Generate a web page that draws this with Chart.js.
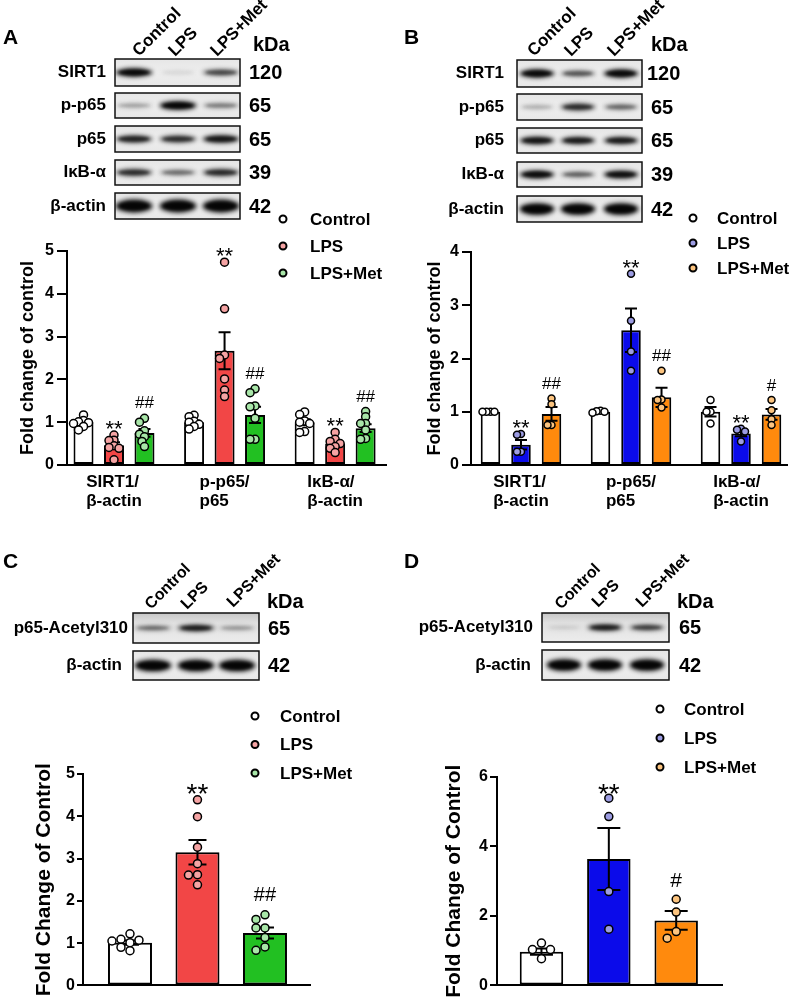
<!DOCTYPE html>
<html>
<head>
<meta charset="utf-8">
<script src="https://cdn.jsdelivr.net/npm/chart.js@4.4.1/dist/chart.umd.min.js"></script>
<style>
  html, body { margin: 0; padding: 0; background: #fff; }
  body { width: 796px; height: 997px; overflow: hidden; position: relative; }
  canvas { position: absolute; }
</style>
</head>
<body>
<canvas id="bg" width="796" height="997" style="left:0;top:0"></canvas>
<canvas id="chartA" width="400" height="320" style="left:0;top:200px"></canvas>
<canvas id="chartB" width="396" height="320" style="left:400px;top:200px"></canvas>
<canvas id="chartC" width="400" height="437" style="left:0;top:560px"></canvas>
<canvas id="chartD" width="396" height="437" style="left:400px;top:560px"></canvas>
<script>
// ---------------- DATA ----------------
const groups = ['Control', 'LPS', 'LPS+Met'];

// Panel A (fold change of control, n = 7)
const catsA = [['SIRT1/', 'β-actin'], ['p-p65/', 'p65'], ['IκB-α/', 'β-actin']];
const ticksA = [0, 1, 2, 3, 4, 5];
const meanA_Control = [1.00, 1.00, 1.00];
const meanA_LPS = [0.46, 2.67, 0.50];
const meanA_Met = [0.75, 1.17, 0.86];
const semA_Control = [0.04, 0.04, 0.07];
const semA_LPS = [0.07, 0.43, 0.06];
const semA_Met = [0.09, 0.19, 0.09];
const ptsA_Control = [[1.17, 1.04, 1.01, 0.99, 0.97, 0.90, 0.82], [1.16, 1.13, 1.02, 1.00, 0.95, 0.90, 0.84], [1.24, 1.18, 1.03, 1.00, 0.97, 0.78, 0.76]];
const ptsA_LPS = [[0.70, 0.58, 0.57, 0.45, 0.41, 0.39, 0.12], [4.74, 3.65, 2.57, 2.49, 2.01, 1.75, 1.60], [0.76, 0.60, 0.55, 0.50, 0.43, 0.39, 0.29]];
const ptsA_Met = [[1.09, 1.00, 0.80, 0.72, 0.66, 0.55, 0.43], [1.78, 1.69, 1.38, 1.36, 1.09, 0.60, 0.60], [1.25, 1.13, 0.97, 0.97, 0.82, 0.62, 0.60]];
const sigA_LPS = ['**', '**', '**'];
const sigA_Met = ['##', '##', '##'];

// Panel B (n = 4)
const catsB = [['SIRT1/', 'β-actin'], ['p-p65/', 'p65'], ['IκB-α/', 'β-actin']];
const ticksB = [0, 1, 2, 3, 4];
const meanB_Control = [1.00, 1.00, 1.00];
const meanB_LPS = [0.38, 2.53, 0.59];
const meanB_Met = [0.96, 1.27, 0.95];
const semB_Control = [0.00, 0.01, 0.09];
const semB_LPS = [0.09, 0.41, 0.05];
const semB_Met = [0.13, 0.18, 0.10];
const ptsB_Control = [[1.00, 1.00, 1.00, 1.00], [1.02, 1.01, 1.00, 0.98], [1.22, 1.00, 1.00, 0.78]];
const ptsB_LPS = [[0.58, 0.57, 0.25, 0.25], [3.59, 2.71, 2.13, 1.77], [0.68, 0.66, 0.63, 0.44]];
const ptsB_Met = [[1.25, 1.14, 0.75, 0.75], [1.77, 1.23, 1.22, 1.08], [1.22, 1.03, 0.86, 0.75]];
const sigB_LPS = ['**', '**', '**'];
const sigB_Met = ['##', '##', '#'];

// Panel C (p65-Acetyl310, n = 7)
const ticksC = [0, 1, 2, 3, 4, 5];
const meanC = [1.01, 3.15, 1.24];
const semC = [0.05, 0.29, 0.13];
const ptsC = [[1.22, 1.09, 1.07, 1.05, 1.01, 0.90, 0.82], [4.39, 3.99, 3.27, 2.88, 2.62, 2.61, 2.38], [1.67, 1.56, 1.36, 1.36, 1.13, 0.91, 0.83]];
const sigC = ['', '**', '##'];

// Panel D (p65-Acetyl310, n = 4)
const ticksD = [0, 2, 4, 6];
const meanD = [0.97, 3.64, 1.87];
const semD = [0.09, 0.89, 0.27];
const ptsD = [[1.22, 1.03, 1.03, 0.77], [5.39, 4.86, 2.70, 1.62], [2.48, 2.11, 1.55, 1.36]];
const sigD = ['', '**', '#'];

// Blot band intensities (relative darkness per lane: Control, LPS, LPS+Met)
const blotRowsAB = ['SIRT1', 'p-p65', 'p65', 'IκB-α', 'β-actin'];
const kdaAB = ['120', '65', '65', '39', '42'];
const bandsA = [[0.95, 0.06, 0.55], [0.22, 1.00, 0.35], [0.75, 0.70, 0.85], [0.70, 0.40, 0.72], [1.00, 1.00, 1.00]];
const bandsB = [[0.95, 0.50, 0.95], [0.18, 0.70, 0.42], [0.85, 0.80, 0.80], [0.92, 0.45, 0.90], [1.00, 1.00, 1.00]];
const blotRowsCD = ['p65-Acetyl310', 'β-actin'];
const kdaCD = ['65', '42'];
const bandsC = [[0.40, 0.80, 0.25], [1.00, 1.00, 1.00]];
const bandsD = [[0.08, 0.80, 0.60], [1.00, 1.00, 1.00]];

// ---------------- STYLE ----------------
const FONT = '"Liberation Sans", Arial, Helvetica, sans-serif';
Chart.defaults.font.family = FONT;
Chart.defaults.color = '#000';

const colA = { bar: ['#ffffff', '#f24646', '#22c022'], pt: ['#ffffff', '#f5a3a3', '#a8e6a8'] };
const colB = { bar: ['#ffffff', '#0b0bea', '#ff8a0d'], pt: ['#ffffff', '#9c9ce2', '#fcc47f'] };

// ---------------- BLOTS (background canvas) ----------------
const bg = document.getElementById('bg').getContext('2d');

function txt(s, x, y, size, align, base) {
  bg.font = 'bold ' + size + 'px ' + FONT;
  bg.textAlign = align || 'left';
  bg.textBaseline = base || 'alphabetic';
  bg.fillStyle = '#000';
  bg.fillText(s, x, y);
}
function rotTxt(s, x, y, size) {
  bg.save();
  bg.translate(x, y);
  bg.rotate(-Math.PI / 4);
  txt(s, 0, 0, size, 'left', 'alphabetic');
  bg.restore();
}
function blotRow(x0, y0, x1, y1, lanes, bands, w, h, topShade) {
  bg.save();
  bg.beginPath(); bg.rect(x0, y0, x1 - x0, y1 - y0); bg.clip();
  const g = bg.createLinearGradient(0, y0, 0, y1);
  if (topShade) { g.addColorStop(0, '#c6c6c6'); g.addColorStop(0.35, '#e2e2e2'); g.addColorStop(1, '#ececec'); }
  else { g.addColorStop(0, '#e6e6e6'); g.addColorStop(0.5, '#eeeeee'); g.addColorStop(1, '#e8e8e8'); }
  bg.fillStyle = g; bg.fillRect(x0, y0, x1 - x0, y1 - y0);
  const cy = (y0 + y1) / 2;
  bands.forEach((a, i) => {
    const hh = h * (0.65 + 0.55 * a);
    bg.filter = 'blur(2.2px)';
    bg.fillStyle = 'rgba(25,25,25,' + Math.min(1, a * 0.85) + ')';
    bg.beginPath(); bg.ellipse(lanes[i], cy, w / 2, hh / 2, 0, 0, Math.PI * 2); bg.fill();
    bg.filter = 'blur(1.4px)';
    bg.fillStyle = 'rgba(0,0,0,' + Math.min(1, a * 0.9) + ')';
    bg.beginPath(); bg.ellipse(lanes[i], cy, w / 2.5, hh / 3.2, 0, 0, Math.PI * 2); bg.fill();
  });
  bg.restore();
  bg.save(); bg.lineWidth = 1.5; bg.strokeStyle = '#111'; bg.strokeRect(x0, y0, x1 - x0, y1 - y0); bg.restore();
}

// panel letters
txt('A', 3, 44, 21); txt('B', 404, 44, 21); txt('C', 3, 568, 21); txt('D', 404, 568, 21);

// Blot A
[[139, 57], [175, 57], [217, 57]].forEach((p, i) => rotTxt(groups[i], p[0], p[1], 17));
txt('kDa', 253, 51, 20);
const rowsA = [[59, 86], [93, 118], [126, 152], [160, 185], [193, 219]];
rowsA.forEach((r, i) => {
  blotRow(115, r[0], 240, r[1], [134, 178, 221], bandsA[i], 38, i === 4 ? 12 : 8);
  txt(blotRowsAB[i], 106, (r[0] + r[1]) / 2, 17, 'right', 'middle');
  txt(kdaAB[i], 249, (r[0] + r[1]) / 2 + 1, 20, 'left', 'middle');
});

// Blot B
[[534, 57], [571, 57], [614, 57]].forEach((p, i) => rotTxt(groups[i], p[0], p[1], 17));
txt('kDa', 651, 51, 20);
const rowsB = [[60, 87], [94, 120], [128, 153], [162, 187], [196, 222]];
rowsB.forEach((r, i) => {
  blotRow(517, r[0], 642, r[1], [537, 578, 621], bandsB[i], 36, i === 4 ? 11 : 8);
  txt(blotRowsAB[i], 504, (r[0] + r[1]) / 2, 17, 'right', 'middle');
  txt(kdaAB[i], i === 0 ? 647 : 651, (r[0] + r[1]) / 2 + 1, 20, 'left', 'middle');
});

// Blot C
[[151, 610], [187, 610], [233, 608]].forEach((p, i) => rotTxt(groups[i], p[0], p[1], 16));
txt('kDa', 267, 608, 20);
const rowsC = [[613, 643], [651, 680]];
rowsC.forEach((r, i) => {
  blotRow(133, r[0], 259, r[1], [153, 196, 237], bandsC[i], 38, i === 1 ? 11 : 7, i === 0);
  txt(blotRowsCD[i], i === 0 ? 128 : 122, (r[0] + r[1]) / 2, 17, 'right', 'middle');
  txt(kdaCD[i], 268, (r[0] + r[1]) / 2 + 1, 20, 'left', 'middle');
});

// Blot D
[[561, 610], [598, 608], [642, 608]].forEach((p, i) => rotTxt(groups[i], p[0], p[1], 16));
txt('kDa', 677, 608, 20);
const rowsD = [[613, 642], [650, 680]];
rowsD.forEach((r, i) => {
  blotRow(542, r[0], 669, r[1], [564, 605, 647], bandsD[i], 36, i === 1 ? 11 : 7, i === 0);
  txt(blotRowsCD[i], i === 0 ? 533 : 531, (r[0] + r[1]) / 2, 17, 'right', 'middle');
  txt(kdaCD[i], 679, (r[0] + r[1]) / 2 + 1, 20, 'left', 'middle');
});

// ---------------- CHART PLUGINS ----------------
function swarmOffsets(pix, minDist, step) {
  const order = pix.map((y, i) => i).sort((a, b) => pix[a] - pix[b]);
  const placed = [];
  const out = new Array(pix.length).fill(0);
  for (const i of order) {
    const y = pix[i];
    for (let k = 0; k < 80; k++) {
      const off = k === 0 ? 0 : (k % 2 ? -1 : 1) * Math.ceil(k / 2) * step;
      if (placed.every(p => Math.hypot(p.x - off, p.y - y) >= minDist - 1e-6)) {
        placed.push({ x: off, y: y }); out[i] = off; break;
      }
    }
  }
  return out;
}

const decorPlugin = {
  id: 'decor',
  afterDatasetsDraw(chart, args, o) {
    const ctx = chart.ctx, ys = chart.scales.y;
    chart.data.datasets.forEach((ds, di) => {
      const meta = chart.getDatasetMeta(di);
      meta.data.forEach((bar, j) => {
        const mean = ds.data[j], sem = ds.sem[j], x = bar.x;
        let topPix = ys.getPixelForValue(mean);
        if (sem > 0) {
          const y1 = ys.getPixelForValue(mean + sem), y2 = ys.getPixelForValue(mean - sem);
          ctx.save();
          ctx.strokeStyle = '#000'; ctx.lineWidth = o.errWidth; ctx.lineCap = 'butt';
          ctx.beginPath();
          ctx.moveTo(x, y1); ctx.lineTo(x, y2);
          ctx.moveTo(x - o.cap / 2, y1); ctx.lineTo(x + o.cap / 2, y1);
          ctx.moveTo(x - o.cap / 2, y2); ctx.lineTo(x + o.cap / 2, y2);
          ctx.stroke();
          ctx.restore();
          topPix = Math.min(topPix, y1);
        }
        const vals = ds.pts[j];
        const pix = vals.map(v => ys.getPixelForValue(v));
        const offs = swarmOffsets(pix, o.minDist, o.step);
        const pc = Array.isArray(ds.ptColor) ? ds.ptColor[j] : ds.ptColor;
        pix.forEach((py, k) => {
          ctx.beginPath();
          ctx.arc(x + offs[k], py, o.r, 0, Math.PI * 2);
          ctx.fillStyle = pc; ctx.fill();
          ctx.lineWidth = o.ptBorder; ctx.strokeStyle = '#000'; ctx.stroke();
          topPix = Math.min(topPix, py - o.r);
        });
        const s = ds.sig ? ds.sig[j] : '';
        if (s) {
          const star = s[0] === '*';
          const fs = star ? o.starSize : o.hashSize;
          ctx.font = fs + 'px ' + FONT;
          ctx.textAlign = 'center'; ctx.textBaseline = 'alphabetic'; ctx.fillStyle = '#000';
          const bottom = topPix - (star ? o.sigGap : o.hashGap);
          ctx.fillText(s, x, star ? bottom + 0.4 * fs : bottom);
        }
      });
    });
  }
};

const legendPlugin = {
  id: 'dotLegend',
  afterDraw(chart, args, o) {
    const ctx = chart.ctx;
    o.items.forEach((it, i) => {
      const y = o.y + i * o.gap;
      ctx.beginPath(); ctx.arc(o.x, y, o.r, 0, Math.PI * 2);
      ctx.fillStyle = it.color; ctx.fill();
      ctx.lineWidth = o.lw; ctx.strokeStyle = '#000'; ctx.stroke();
      ctx.font = 'bold ' + o.size + 'px ' + FONT;
      ctx.textAlign = 'left'; ctx.textBaseline = 'middle'; ctx.fillStyle = '#000';
      ctx.fillText(it.text, o.tx, y + 1);
    });
  }
};

const catLabelPlugin = {
  id: 'catLabels',
  afterDraw(chart, args, o) {
    if (!o || !o.show) return;
    const ctx = chart.ctx, xs = chart.scales.x;
    ctx.font = 'bold ' + o.size + 'px ' + FONT;
    ctx.textAlign = 'left'; ctx.textBaseline = 'middle'; ctx.fillStyle = '#000';
    chart.data.labels.forEach((lab, i) => {
      const lines = Array.isArray(lab) ? lab : [lab];
      const w = Math.max.apply(null, lines.map(l => ctx.measureText(l).width));
      const x0 = xs.getPixelForTick(i) - w / 2;
      lines.forEach((l, k) => ctx.fillText(l, x0, o.y + k * o.lh));
    });
  }
};

function makeChart(id, labels, ticks, datasets, L) {
  const n = labels.length;
  return new Chart(document.getElementById(id), {
    type: 'bar',
    data: { labels: labels, datasets: datasets },
    options: {
      responsive: false,
      animation: false,
      events: [],
      layout: { padding: { left: 0, right: L.padR, top: L.padT, bottom: 0 } },
      datasets: { bar: { categoryPercentage: L.cat, barPercentage: L.bar } },
      plugins: {
        legend: { display: false },
        tooltip: { enabled: false },
        decor: L.decor,
        dotLegend: L.legend,
        catLabels: L.catLabels || { show: false }
      },
      scales: {
        x: {
          type: 'category',
          offset: true,
          grid: { display: false },
          border: { display: true, color: '#000', width: 2 },
          ticks: { display: false },
          afterFit: s => { s.height = L.xH; },
          afterBuildTicks: s => { s._startValue = -L.padLc; s._valueRange = (n - 1) + L.padLc + L.padRc; }
        },
        y: {
          min: ticks[0],
          max: ticks[ticks.length - 1],
          afterBuildTicks: s => { s.ticks = ticks.map(v => ({ value: v })); },
          ticks: { font: { size: L.tickSize, weight: 'bold' }, color: '#000', padding: L.tickPad },
          grid: { display: true, drawOnChartArea: false, drawTicks: true, tickLength: L.tickLen, color: '#000', lineWidth: 2 },
          border: { display: true, color: '#000', width: 2 },
          title: { display: true, text: L.title, color: '#000', font: { size: L.titleSize, weight: 'bold' }, padding: { top: L.titlePad, bottom: 0 } },
          afterFit: s => { s.width = L.yW; }
        }
      }
    },
    plugins: [decorPlugin, legendPlugin, catLabelPlugin]
  });
}

function groupedSets(means, sems, pts, sigs, col) {
  return groups.map((g, i) => ({
    label: g,
    data: means[i], sem: sems[i], pts: pts[i], sig: sigs[i],
    backgroundColor: col.bar[i], borderColor: '#000', borderWidth: 2, borderSkipped: false,
    ptColor: col.pt[i]
  }));
}
function singleSet(means, sems, pts, sigs, col) {
  return [{
    label: 'p65-Acetyl310',
    data: means, sem: sems, pts: pts, sig: sigs,
    backgroundColor: col.bar, borderColor: '#000', borderWidth: 2, borderSkipped: false,
    ptColor: col.pt
  }];
}
function legendItems(col) { return groups.map((g, i) => ({ text: g, color: col.pt[i] })); }

// ---------------- CHARTS ----------------
makeChart('chartA', catsA, ticksA,
  groupedSets([meanA_Control, meanA_LPS, meanA_Met], [semA_Control, semA_LPS, semA_Met],
              [ptsA_Control, ptsA_LPS, ptsA_Met], [null, sigA_LPS, sigA_Met], colA),
  { padR: 14, padT: 51, xH: 55, yW: 67, padLc: 0.425, padRc: 0.46, cat: 0.827, bar: 0.656,
    tickSize: 16, tickPad: 3, tickLen: 10, title: 'Fold change of control', titleSize: 18, titlePad: 17,
    decor: { r: 4, ptBorder: 1.5, minDist: 5, step: 2.5, cap: 12, errWidth: 2, starSize: 22, hashSize: 17, sigGap: 4, hashGap: 6 },
    legend: { items: legendItems(colA), x: 283, y: 19, gap: 27, r: 3.5, lw: 2, tx: 310, size: 17 },
    catLabels: { show: true, y: 282, lh: 19, size: 17 } });

makeChart('chartB', catsB, ticksB,
  groupedSets([meanB_Control, meanB_LPS, meanB_Met], [semB_Control, semB_LPS, semB_Met],
              [ptsB_Control, ptsB_LPS, ptsB_Met], [null, sigB_LPS, sigB_Met], colB),
  { padR: 9, padT: 52, xH: 55, yW: 71, padLc: 0.4545, padRc: 0.418, cat: 0.832, bar: 0.64,
    tickSize: 16, tickPad: 3, tickLen: 9, title: 'Fold change of control', titleSize: 18, titlePad: 24,
    decor: { r: 3.5, ptBorder: 1.5, minDist: 4, step: 4, cap: 12, errWidth: 2, starSize: 22, hashSize: 17, sigGap: 4, hashGap: 6 },
    legend: { items: legendItems(colB), x: 293, y: 18, gap: 25, r: 3.5, lw: 2, tx: 317, size: 17 },
    catLabels: { show: true, y: 282, lh: 19, size: 17 } });

makeChart('chartC', groups, ticksC,
  singleSet(meanC, semC, ptsC, sigC, colA),
  { padR: 90, padT: 214, xH: 9, yW: 83, padLc: 0.696, padRc: 0.667, cat: 1, bar: 0.652,
    tickSize: 16, tickPad: 2, tickLen: 6, title: 'Fold Change of Control', titleSize: 21, titlePad: 32,
    decor: { r: 4, ptBorder: 1.5, minDist: 8, step: 4.5, cap: 18, errWidth: 2, starSize: 28, hashSize: 20, sigGap: 4, hashGap: 10 },
    legend: { items: legendItems(colA), x: 255, y: 156, gap: 28.5, r: 3.5, lw: 2, tx: 280, size: 17 } });

makeChart('chartD', groups, ticksD,
  singleSet(meanD, semD, ptsD, sigD, colB),
  { padR: 74, padT: 217, xH: 7, yW: 97, padLc: 0.66, padRc: 0.68, cat: 1, bar: 0.645,
    tickSize: 16, tickPad: 2, tickLen: 7, title: 'Fold Change of Control', titleSize: 21, titlePad: 42,
    decor: { r: 4, ptBorder: 1.5, minDist: 8, step: 4.5, cap: 23, errWidth: 2, starSize: 28, hashSize: 21, sigGap: 2, hashGap: 8 },
    legend: { items: legendItems(colB), x: 260, y: 149, gap: 29, r: 3.5, lw: 2, tx: 284, size: 17 } });
</script>
</body>
</html>
